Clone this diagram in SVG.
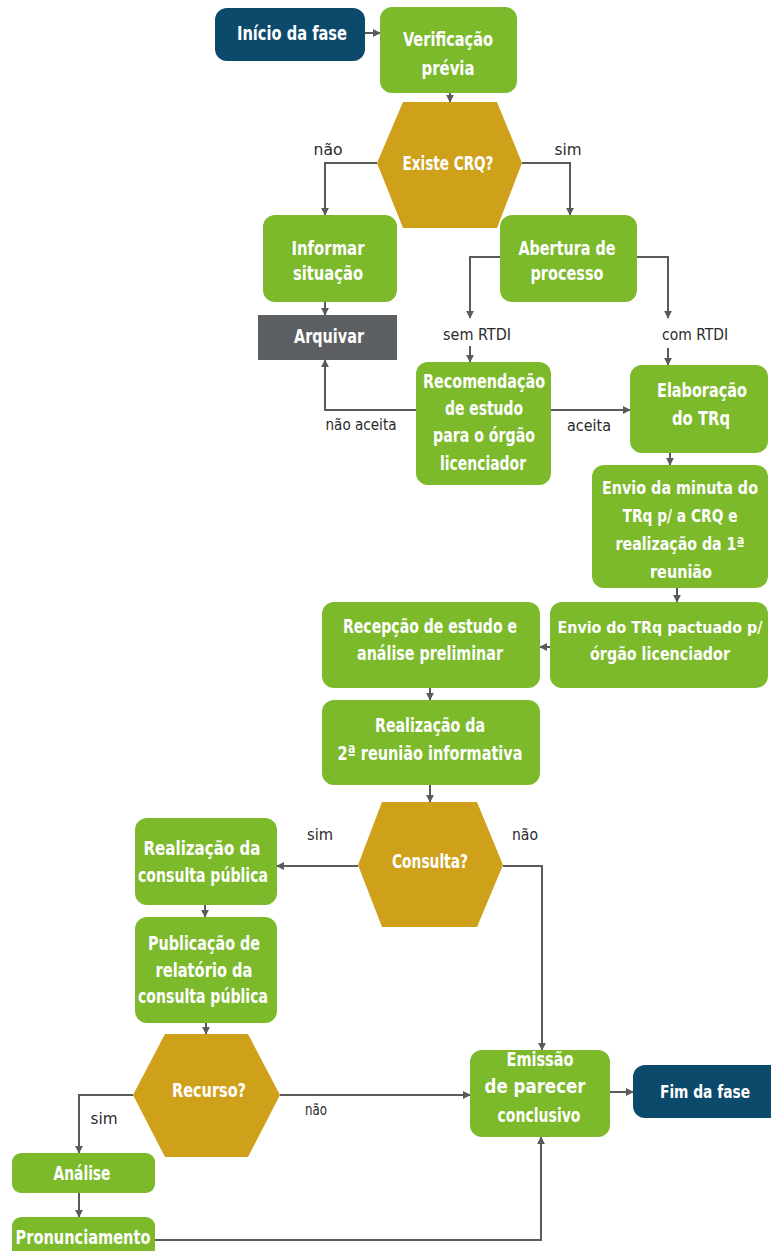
<svg xmlns="http://www.w3.org/2000/svg" width="771" height="1251" viewBox="0 0 771 1251">
<style>
.g{fill:#7cba2c}
.b{fill:#0c4a6c}
.h{fill:#cfa11b}
.a{fill:#5d6062}
.t{font-family:"Liberation Sans Narrow","DejaVu Sans Condensed","Liberation Sans",sans-serif;font-weight:bold;font-size:20px;fill:#ffffff;text-anchor:middle}
.s{font-size:17px}
.x{font-size:15px}
.l{font-family:"Liberation Sans Narrow","DejaVu Sans Condensed","Liberation Sans",sans-serif;font-size:16px;fill:#2a2a2a;text-anchor:middle}
.c{fill:none;stroke:#5a5a5a;stroke-width:2}
</style>
<defs>
<marker id="ar" viewBox="0 0 10 10" refX="9" refY="5" markerWidth="4" markerHeight="4" orient="auto" markerUnits="strokeWidth">
<path d="M0,0 L10,5 L0,10 z" fill="#5a5a5a"/>
</marker>
</defs>
<rect width="771" height="1251" fill="#ffffff"/>
<g id="connectors">
<path class="c" marker-end="url(#ar)" d="M365,33 H380"/>
<path class="c" marker-end="url(#ar)" d="M450,93 V102"/>
<path class="c" marker-end="url(#ar)" d="M377,163 H325 V215"/>
<path class="c" marker-end="url(#ar)" d="M522,163 H570 V215"/>
<path class="c" marker-end="url(#ar)" d="M325,302 V315"/>
<path class="c" marker-end="url(#ar)" d="M500,257 H470 V318"/>
<path class="c" marker-end="url(#ar)" d="M470,346 V362"/>
<path class="c" marker-end="url(#ar)" d="M637,257 H668 V318"/>
<path class="c" marker-end="url(#ar)" d="M668,348 V365"/>
<path class="c" marker-end="url(#ar)" d="M416,410 H325 V360"/>
<path class="c" marker-end="url(#ar)" d="M551,410 H630"/>
<path class="c" marker-end="url(#ar)" d="M670,453 V465"/>
<path class="c" marker-end="url(#ar)" d="M677,588 V602"/>
<path class="c" marker-end="url(#ar)" d="M550,647 H540"/>
<path class="c" marker-end="url(#ar)" d="M430,688 V700"/>
<path class="c" marker-end="url(#ar)" d="M430,785 V802"/>
<path class="c" marker-end="url(#ar)" d="M358,866 H277"/>
<path class="c" marker-end="url(#ar)" d="M503,866 H542 V1050"/>
<path class="c" marker-end="url(#ar)" d="M205,905 V917"/>
<path class="c" marker-end="url(#ar)" d="M206,1023 V1034"/>
<path class="c" marker-end="url(#ar)" d="M133,1095 H79 V1153"/>
<path class="c" marker-end="url(#ar)" d="M79,1193 V1217"/>
<path class="c" marker-end="url(#ar)" d="M155,1240 H541 V1137"/>
<path class="c" marker-end="url(#ar)" d="M280,1095 H470"/>
<path class="c" marker-end="url(#ar)" d="M610,1092 H633"/>
<text class="l" x="328" y="155" textLength="29" lengthAdjust="spacingAndGlyphs">não</text>
<text class="l" x="568" y="155" textLength="27" lengthAdjust="spacingAndGlyphs">sim</text>
<text class="l" x="477" y="340" textLength="68" lengthAdjust="spacingAndGlyphs">sem RTDI</text>
<text class="l" x="695" y="340" textLength="66" lengthAdjust="spacingAndGlyphs">com RTDI</text>
<text class="l" x="361" y="430" textLength="71" lengthAdjust="spacingAndGlyphs">não aceita</text>
<text class="l" x="589" y="431" textLength="44" lengthAdjust="spacingAndGlyphs">aceita</text>
<text class="l" x="320" y="840" textLength="26" lengthAdjust="spacingAndGlyphs">sim</text>
<text class="l" x="525" y="840" textLength="26" lengthAdjust="spacingAndGlyphs">não</text>
<text class="l" x="104" y="1124" textLength="27" lengthAdjust="spacingAndGlyphs">sim</text>
<text class="l" x="316" y="1115" textLength="22" lengthAdjust="spacingAndGlyphs">não</text>
</g>
<g id="inicio">
<rect class="b" x="215" y="8" width="150" height="53" rx="12"/>
<text class="t" x="292" y="40" textLength="110" lengthAdjust="spacingAndGlyphs">Início da fase</text>
</g>
<g id="verificacao">
<rect class="g" x="380" y="7" width="137" height="86" rx="12"/>
<text class="t" x="448" y="46" textLength="90" lengthAdjust="spacingAndGlyphs">Verificação</text>
<text class="t" x="448" y="75" textLength="53" lengthAdjust="spacingAndGlyphs">prévia</text>
</g>
<g id="existe-crq">
<polygon class="h" points="403,102 497,102 522,163 497,228 403,228 377,163"/>
<text class="t" x="448" y="170" textLength="91" lengthAdjust="spacingAndGlyphs">Existe CRQ?</text>
</g>
<g id="informar">
<rect class="g" x="263" y="215" width="134" height="87" rx="12"/>
<text class="t" x="328" y="255" textLength="73" lengthAdjust="spacingAndGlyphs">Informar</text>
<text class="t" x="328" y="280" textLength="70" lengthAdjust="spacingAndGlyphs">situação</text>
</g>
<g id="abertura">
<rect class="g" x="500" y="215" width="137" height="87" rx="12"/>
<text class="t" x="567" y="255" textLength="97" lengthAdjust="spacingAndGlyphs">Abertura de</text>
<text class="t" x="567" y="280" textLength="73" lengthAdjust="spacingAndGlyphs">processo</text>
</g>
<g id="arquivar">
<rect class="a" x="258" y="315" width="139" height="45"/>
<text class="t" x="329" y="343" textLength="70" lengthAdjust="spacingAndGlyphs">Arquivar</text>
</g>
<g id="recomendacao">
<rect class="g" x="416" y="362" width="135" height="123" rx="12"/>
<text class="t" x="484" y="388" textLength="122" lengthAdjust="spacingAndGlyphs">Recomendação</text>
<text class="t" x="484" y="415" textLength="78" lengthAdjust="spacingAndGlyphs">de estudo</text>
<text class="t" x="484" y="442" textLength="102" lengthAdjust="spacingAndGlyphs">para o órgão</text>
<text class="t" x="483" y="470" textLength="86" lengthAdjust="spacingAndGlyphs">licenciador</text>
</g>
<g id="elaboracao">
<rect class="g" x="630" y="365" width="138" height="88" rx="12"/>
<text class="t" x="702" y="397" textLength="90" lengthAdjust="spacingAndGlyphs">Elaboração</text>
<text class="t" x="701" y="425" textLength="58" lengthAdjust="spacingAndGlyphs">do TRq</text>
</g>
<g id="envio-minuta">
<rect class="g" x="592" y="465" width="176" height="123" rx="12"/>
<text class="t s" x="680" y="494" textLength="156" lengthAdjust="spacingAndGlyphs">Envio da minuta do</text>
<text class="t s" x="680" y="522" textLength="115" lengthAdjust="spacingAndGlyphs">TRq p/ a CRQ e</text>
<text class="t s" x="680" y="550" textLength="129" lengthAdjust="spacingAndGlyphs">realização da 1ª</text>
<text class="t s" x="681" y="578" textLength="62" lengthAdjust="spacingAndGlyphs">reunião</text>
</g>
<g id="envio-trq">
<rect class="g" x="550" y="602" width="218" height="86" rx="12"/>
<text class="t x" x="660" y="633" textLength="205" lengthAdjust="spacingAndGlyphs">Envio do TRq pactuado p/</text>
<text class="t s" x="660" y="660" textLength="140" lengthAdjust="spacingAndGlyphs">órgão licenciador</text>
</g>
<g id="recepcao">
<rect class="g" x="322" y="602" width="218" height="86" rx="12"/>
<text class="t" x="430" y="633" textLength="174" lengthAdjust="spacingAndGlyphs">Recepção de estudo e</text>
<text class="t" x="430" y="660" textLength="146" lengthAdjust="spacingAndGlyphs">análise preliminar</text>
</g>
<g id="realizacao-2">
<rect class="g" x="322" y="700" width="218" height="85" rx="12"/>
<text class="t" x="430" y="732" textLength="110" lengthAdjust="spacingAndGlyphs">Realização da</text>
<text class="t" x="430" y="760" textLength="185" lengthAdjust="spacingAndGlyphs">2ª reunião informativa</text>
</g>
<g id="consulta">
<polygon class="h" points="382,802 477,802 503,865 477,927 382,927 358,865"/>
<text class="t" x="430" y="868" textLength="76" lengthAdjust="spacingAndGlyphs">Consulta?</text>
</g>
<g id="realizacao-consulta">
<rect class="g" x="135" y="818" width="142" height="87" rx="12"/>
<text class="t" x="202" y="855" textLength="117" lengthAdjust="spacingAndGlyphs">Realização da</text>
<text class="t" x="203" y="882" textLength="130" lengthAdjust="spacingAndGlyphs">consulta pública</text>
</g>
<g id="publicacao">
<rect class="g" x="135" y="917" width="142" height="106" rx="12"/>
<text class="t" x="204" y="950" textLength="112" lengthAdjust="spacingAndGlyphs">Publicação de</text>
<text class="t" x="204" y="977" textLength="97" lengthAdjust="spacingAndGlyphs">relatório da</text>
<text class="t" x="203" y="1003" textLength="130" lengthAdjust="spacingAndGlyphs">consulta pública</text>
</g>
<g id="recurso">
<polygon class="h" points="165,1034 248,1034 280,1095 248,1157 165,1157 133,1095"/>
<text class="t" x="209" y="1097" textLength="74" lengthAdjust="spacingAndGlyphs">Recurso?</text>
</g>
<g id="analise">
<rect class="g" x="12" y="1153" width="143" height="40" rx="9"/>
<text class="t" x="82" y="1180" textLength="57" lengthAdjust="spacingAndGlyphs">Análise</text>
</g>
<g id="pronunciamento">
<rect class="g" x="12" y="1217" width="143" height="50" rx="9"/>
<text class="t" x="83" y="1244" textLength="135" lengthAdjust="spacingAndGlyphs">Pronunciamento</text>
</g>
<g id="emissao">
<rect class="g" x="470" y="1050" width="140" height="87" rx="12"/>
<text class="t" x="540" y="1066" textLength="67" lengthAdjust="spacingAndGlyphs">Emissão</text>
<text class="t" x="535" y="1093" textLength="101" lengthAdjust="spacingAndGlyphs">de parecer</text>
<text class="t" x="539" y="1122" textLength="83" lengthAdjust="spacingAndGlyphs">conclusivo</text>
</g>
<g id="fim">
<path class="b" d="M645,1065 H771 V1118 H645 A12,12 0 0 1 633,1106 V1077 A12,12 0 0 1 645,1065 Z"/>
<text class="t s" x="705" y="1098" textLength="90" lengthAdjust="spacingAndGlyphs">Fim da fase</text>
</g>
</svg>
